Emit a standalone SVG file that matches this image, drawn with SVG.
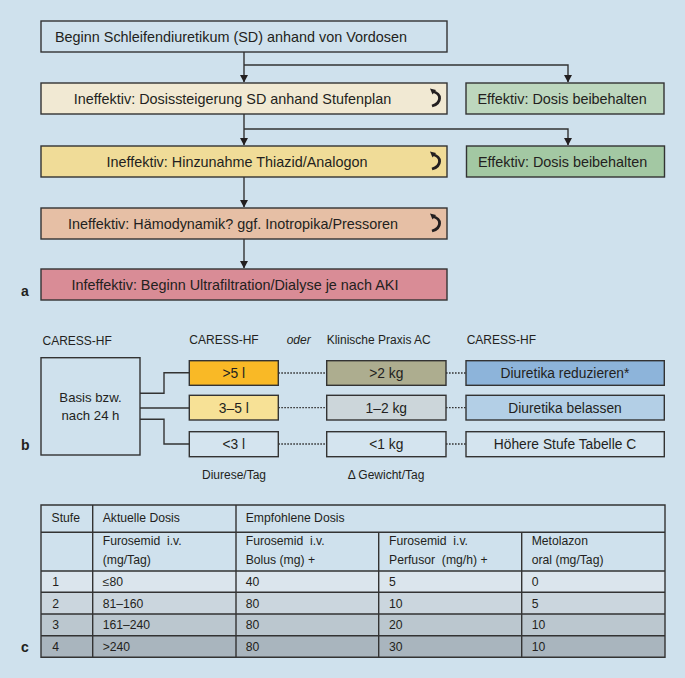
<svg xmlns="http://www.w3.org/2000/svg" xmlns:xlink="http://www.w3.org/1999/xlink" width="685" height="678" viewBox="0 0 685 678">
<style>
text{font-family:"Liberation Sans",Arial,sans-serif;fill:#231f20}
.a{font-size:14.4px}
.m{text-anchor:middle}
.lbl{font-size:14px;font-weight:bold}
.hd{font-size:12px}
.bx{font-size:13.8px;text-anchor:middle}
.t{font-size:12.2px;white-space:pre}
.box{stroke:#333;stroke-width:1.4}
.con{fill:none;stroke:#333;stroke-width:1.4}
.dot{fill:none;stroke:#333;stroke-width:1.3;stroke-dasharray:1.6 1.4}
.grid{stroke:#333;stroke-width:1.4;fill:none}
</style>
<defs>
<marker id="ah" markerWidth="8" markerHeight="8" refX="7" refY="4" orient="auto" markerUnits="userSpaceOnUse">
<path d="M0,0 L7.5,4 L0,8 Z" fill="#231f20"/>
</marker>
<g id="loop">
<path d="M-0.5,-6.5 C9,-4.5 9,5 -1,8" fill="none" stroke="#231f20" stroke-width="2.8"/>
<path d="M-3,-9.5 L3,-8 L-0.5,-3.5 Z" fill="#231f20"/>
</g>
</defs>
<rect width="685" height="678" fill="#cfe1ed"/>

<g id="connectors">
<path class="con" d="M244,52 V82" marker-end="url(#ah)"/>
<path class="con" d="M244,65 H568 V82" marker-end="url(#ah)"/>
<path class="con" d="M244,114 V145" marker-end="url(#ah)"/>
<path class="con" d="M244,129 H568 V145" marker-end="url(#ah)"/>
<path class="con" d="M244,177 V207" marker-end="url(#ah)"/>
<path class="con" d="M244,239 V268" marker-end="url(#ah)"/>
<path class="con" d="M140,393.3 H164 V372.7 H189.3"/>
<path class="con" d="M140,408 H189.3"/>
<path class="con" d="M140,419.3 H164 V444 H189.3"/>
<path class="dot" d="M278.3,373 H326.7 M278.3,407.7 H326.7 M278.3,444 H326.7"/>
<path class="dot" d="M446,373 H466 M446,407.7 H466 M446,444 H466"/>
</g>

<g id="n1"><rect class="box" x="41" y="21" width="406" height="31" fill="#cfe1ed"/>
<text class="a" x="55" y="41.5">Beginn Schleifendiuretikum (SD) anhand von Vordosen</text></g>
<g id="n2"><rect class="box" x="41" y="83" width="406" height="31" fill="#f1e9d3"/>
<text class="a m" x="232.5" y="103.5">Ineffektiv: Dosissteigerung SD anhand Stufenplan</text>
<use xlink:href="#loop" x="433" y="98"/></g>
<g id="n3"><rect class="box" x="466" y="83" width="198" height="31" fill="#bdd7be"/>
<text class="a" x="477.5" y="103.5">Effektiv: Dosis beibehalten</text></g>
<g id="n4"><rect class="box" x="41" y="146" width="406" height="31" fill="#f0dc98"/>
<text class="a m" x="237" y="166.5">Ineffektiv: Hinzunahme Thiazid/Analogon</text>
<use xlink:href="#loop" x="433" y="161"/></g>
<g id="n5"><rect class="box" x="466.5" y="146" width="198" height="31" fill="#a3c8a3"/>
<text class="a" x="478" y="166.5">Effektiv: Dosis beibehalten</text></g>
<g id="n6"><rect class="box" x="41" y="208" width="406" height="31" fill="#e6bfa5"/>
<text class="a m" x="233" y="228.5">Ineffektiv: Hämodynamik? ggf. Inotropika/Pressoren</text>
<use xlink:href="#loop" x="433" y="223"/></g>
<g id="n7"><rect class="box" x="41" y="269" width="406" height="31" fill="#d98c96"/>
<text class="a m" x="235" y="289.5">Infeffektiv: Beginn Ultrafiltration/Dialyse je nach AKI</text></g>
<text class="lbl" x="21" y="296">a</text>

<g id="b-headers">
<text class="hd" x="42.5" y="345">CARESS-HF</text>
<text class="hd" x="189.3" y="344">CARESS-HF</text>
<text class="hd" x="286.7" y="344" font-style="italic">oder</text>
<text class="hd" x="326.7" y="344">Klinische Praxis AC</text>
<text class="hd" x="466.7" y="344">CARESS-HF</text>
<text class="hd" x="234" y="479" text-anchor="middle" font-size="12.5">Diurese/Tag</text>
<text class="hd" x="386" y="479" text-anchor="middle" font-size="12.5">Δ Gewicht/Tag</text>
</g>
<g id="basis"><rect class="box" x="41" y="357.7" width="99" height="97.3" fill="#cfe1ed"/>
<text class="m" font-size="13.2" x="90.5" y="402">Basis bzw.</text>
<text class="m" font-size="13.2" x="90.5" y="420">nach 24 h</text></g>
<g id="d1"><rect class="box" x="189.3" y="360.7" width="89" height="24.6" fill="#f9b926"/><text class="bx" x="233.8" y="378">&gt;5 l</text></g>
<g id="d2"><rect class="box" x="189.3" y="395.3" width="89" height="24.7" fill="#f7e196"/><text class="bx" x="233.8" y="412.5">3–5 l</text></g>
<g id="d3"><rect class="box" x="189.3" y="431.7" width="89" height="25" fill="#d4e4ef"/><text class="bx" x="233.8" y="449">&lt;3 l</text></g>
<g id="w1"><rect class="box" x="326.7" y="360.7" width="119.3" height="24.6" fill="#adad8f"/><text class="bx" x="386.3" y="378">&gt;2 kg</text></g>
<g id="w2"><rect class="box" x="326.7" y="395.3" width="119.3" height="24.7" fill="#ccd6da"/><text class="bx" x="386.3" y="412.5">1–2 kg</text></g>
<g id="w3"><rect class="box" x="326.7" y="431.7" width="119.3" height="25" fill="#d4e4ef"/><text class="bx" x="386.3" y="449">&lt;1 kg</text></g>
<g id="r1"><rect class="box" x="466" y="360.7" width="198.3" height="24.6" fill="#8db4da"/><text class="bx" x="565" y="378">Diuretika reduzieren*</text></g>
<g id="r2"><rect class="box" x="466" y="395.3" width="198.3" height="24.7" fill="#b3cfe6"/><text class="bx" x="565" y="412.5">Diuretika belassen</text></g>
<g id="r3"><rect class="box" x="466" y="431.7" width="198.3" height="25" fill="#d4e4ef"/><text class="bx" x="565" y="449">Höhere Stufe Tabelle C</text></g>
<text class="lbl" x="21" y="450">b</text>

<g id="table">
<rect x="41" y="505" width="624" height="66" fill="#cfe1ed"/>
<rect x="41" y="571" width="624" height="21.3" fill="#dbe5ed"/>
<rect x="41" y="592.3" width="624" height="21.7" fill="#cbd6de"/>
<rect x="41" y="614" width="624" height="21.7" fill="#bbc7cf"/>
<rect x="41" y="635.7" width="624" height="21.6" fill="#a9b5be"/>
<path class="grid" d="M41,505 H665 V657.3 H41 Z M41,532.3 H665 M41,571 H665 M41,592.3 H665 M41,614 H665 M41,635.7 H665 M92.7,505 V657.3 M236,505 V657.3 M378.7,532.3 V657.3 M521.7,532.3 V657.3"/>
<text class="t" x="51.5" y="522">Stufe</text>
<text class="t" x="102.7" y="522">Aktuelle Dosis</text>
<text class="t" x="245.7" y="522">Empfohlene Dosis</text>
<text class="t" x="102.7" y="545">Furosemid  i.v.</text>
<text class="t" x="102.7" y="564">(mg/Tag)</text>
<text class="t" x="245.7" y="545">Furosemid  i.v.</text>
<text class="t" x="245.7" y="564">Bolus (mg) +</text>
<text class="t" x="389" y="545">Furosemid  i.v.</text>
<text class="t" x="389" y="564">Perfusor  (mg/h) +</text>
<text class="t" x="531.7" y="545">Metolazon</text>
<text class="t" x="531.7" y="564">oral (mg/Tag)</text>
<text class="t" x="52.3" y="586">1</text><text class="t" x="102.7" y="586">≤80</text><text class="t" x="245.7" y="586">40</text><text class="t" x="389" y="586">5</text><text class="t" x="531.7" y="586">0</text>
<text class="t" x="52.3" y="607.5">2</text><text class="t" x="102.7" y="607.5">81–160</text><text class="t" x="245.7" y="607.5">80</text><text class="t" x="389" y="607.5">10</text><text class="t" x="531.7" y="607.5">5</text>
<text class="t" x="52.3" y="629">3</text><text class="t" x="102.7" y="629">161–240</text><text class="t" x="245.7" y="629">80</text><text class="t" x="389" y="629">20</text><text class="t" x="531.7" y="629">10</text>
<text class="t" x="52.3" y="650.5">4</text><text class="t" x="102.7" y="650.5">&gt;240</text><text class="t" x="245.7" y="650.5">80</text><text class="t" x="389" y="650.5">30</text><text class="t" x="531.7" y="650.5">10</text>
</g>
<text class="lbl" x="21" y="652">c</text>
</svg>
